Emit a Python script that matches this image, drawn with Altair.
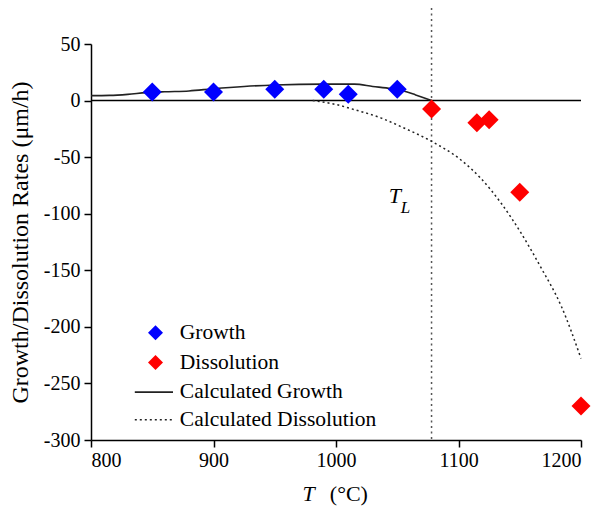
import altair as alt
import pandas as pd

# ---- data ----
growth_T = [850, 900, 950, 990, 1010, 1050]
growth_v = [7.5, 7.5, 10, 10, 5.5, 10]

diss_T = [1078, 1115, 1125, 1150, 1200]
diss_v = [-7.5, -19.5, -17, -81, -270]

calc_growth_T = [800, 815, 830, 845, 860, 880, 900, 925, 950, 990, 1015, 1030, 1045, 1055, 1065, 1078]
calc_growth_v = [4.4, 4.6, 5.5, 7.0, 7.8, 8.5, 10.5, 12.5, 13.8, 14.5, 14.5, 12.5, 10.5, 8.5, 5.0, 0.0]

calc_diss_T = [981, 1000, 1015, 1037, 1055, 1078, 1102, 1118, 1135, 1151, 1167, 1184, 1200]
calc_diss_v = [0, -3.5, -8, -15.5, -24, -36, -52.5, -68.5, -91, -117, -147, -182, -228]

T_liquidus = [1078]

legend_labels = ["Growth", "Dissolution", "Calculated Growth", "Calculated Dissolution"]
x_ticks = [800, 900, 1000, 1100, 1200]
y_ticks = [50, 0, -50, -100, -150, -200, -250, -300]

FONT = "Liberation Serif"
W, H = 490, 396

xs = alt.Scale(domain=[800, 1200], nice=False, zero=False)
ys = alt.Scale(domain=[-300, 50], nice=False, zero=False)

X = alt.X("T:Q", scale=xs, axis=alt.Axis(values=x_ticks, title=None, grid=False,
          labelFont=FONT, labelFontSize=20, labelColor="black", labelPadding=3,
          labelExpr="'' + datum.value",
          tickColor="black", tickSize=7, tickWidth=1.5,
          domainColor="black", domainWidth=1.5))
Y = alt.Y("v:Q", scale=ys, axis=alt.Axis(values=y_ticks, title="Growth/Dissolution Rates (μm/h)",
          grid=False, labelFont=FONT, labelFontSize=20, labelColor="black", labelPadding=4,
          labelExpr="'' + datum.value",
          tickColor="black", tickSize=7, tickWidth=1.5,
          domainColor="black", domainWidth=1.5,
          titleFont=FONT, titleFontSize=24, titleFontWeight="normal", titleColor="black",
          titleX=-64, titleY=H / 2, titleAngle=270, titleAlign="center",
          titleBaseline="alphabetic"))

growth_df = pd.DataFrame({"T": growth_T, "v": growth_v})
diss_df = pd.DataFrame({"T": diss_T, "v": diss_v})
cg_df = pd.DataFrame({"T": calc_growth_T, "v": calc_growth_v})
cd_df = pd.DataFrame({"T": calc_diss_T, "v": calc_diss_v})

zero_line = alt.Chart(pd.DataFrame({"v": [0]})).mark_rule(color="black", strokeWidth=1.5).encode(
    y=alt.Y("v:Q", scale=ys), x=alt.datum(800, scale=xs), x2=alt.datum(1200))

tl_line = alt.Chart(pd.DataFrame({"T": T_liquidus})).mark_rule(
    color="#555555", strokeWidth=1.5, strokeDash=[2, 3.5]).encode(
    x=alt.X("T:Q", scale=xs), y=alt.value(-36), y2=alt.value(H))

cg_line = alt.Chart(cg_df).mark_line(color="#222222", strokeWidth=1.6, interpolate="monotone").encode(
    x=X, y=Y)
cd_line = alt.Chart(cd_df).mark_line(color="#222222", strokeWidth=1.5, strokeDash=[2, 3],
                                      interpolate="monotone").encode(x=X, y=Y)

g_pts = alt.Chart(growth_df).mark_point(shape="diamond", filled=True, size=361, color="#0000ff",
                                        opacity=1).encode(x=X, y=Y)
d_pts = alt.Chart(diss_df).mark_point(shape="diamond", filled=True, size=361, color="#ff0000",
                                      opacity=1).encode(x=X, y=Y)

# T_L annotation
tl_T = alt.Chart(pd.DataFrame({"s": ["T"]})).mark_text(
    font=FONT, fontStyle="italic", fontSize=22, align="left", baseline="alphabetic", color="black").encode(
    x=alt.datum(1043, scale=xs), y=alt.datum(-90.5, scale=ys), text="s:N")
tl_L = alt.Chart(pd.DataFrame({"s": ["L"]})).mark_text(
    font=FONT, fontStyle="italic", fontSize=17, align="left", baseline="alphabetic", color="black").encode(
    x=alt.datum(1052.8, scale=xs), y=alt.datum(-99.6, scale=ys), text="s:N")

# x axis title: italic T and (°C)
xt_T = alt.Chart(pd.DataFrame({"s": ["T"]})).mark_text(
    font=FONT, fontStyle="italic", fontSize=22, align="left", baseline="alphabetic", color="black").encode(
    x=alt.value(211.5), y=alt.value(457), text="s:N")
xt_C = alt.Chart(pd.DataFrame({"s": ["(°C)"]})).mark_text(
    font=FONT, fontSize=22, align="left", baseline="alphabetic", color="black").encode(
    x=alt.value(238.8), y=alt.value(457), text="s:N")

# manual legend
leg_rows_y = [288.8, 318.5, 348.1, 375.8]
leg_layers = []
leg_colors = ["#0000ff", "#ff0000"]
for i in range(2):
    leg_layers.append(alt.Chart(pd.DataFrame({"s": [legend_labels[i]]})).mark_point(
        shape="diamond", filled=True, size=225, color=leg_colors[i], opacity=1).encode(
        x=alt.value(64.5), y=alt.value(leg_rows_y[i])))
leg_layers.append(alt.Chart(pd.DataFrame({"s": [legend_labels[2]]})).mark_rule(
    color="#222222", strokeWidth=1.6).encode(
    x=alt.value(43.8), x2=alt.value(82), y=alt.value(leg_rows_y[2])))
leg_layers.append(alt.Chart(pd.DataFrame({"s": [legend_labels[3]]})).mark_rule(
    color="#222222", strokeWidth=1.5, strokeDash=[2, 3]).encode(
    x=alt.value(43.8), x2=alt.value(82), y=alt.value(leg_rows_y[3])))
for i in range(4):
    leg_layers.append(alt.Chart(pd.DataFrame({"s": [legend_labels[i]]})).mark_text(
        font=FONT, fontSize=21.5, align="left", baseline="middle", color="black").encode(
        x=alt.value(88.8), y=alt.value(leg_rows_y[i]), text="s:N"))

chart = alt.layer(
    zero_line, tl_line, cg_line, cd_line, g_pts, d_pts, tl_T, tl_L, xt_T, xt_C, *leg_layers
).properties(
    width=W, height=H,
    autosize=alt.AutoSizeParams(type="none"),
    padding={"left": 83, "top": 36, "right": 12, "bottom": 68},
    background="white",
).configure_view(stroke=None)

chart.save("out.html", embed_options={"renderer": "svg", "actions": False})
